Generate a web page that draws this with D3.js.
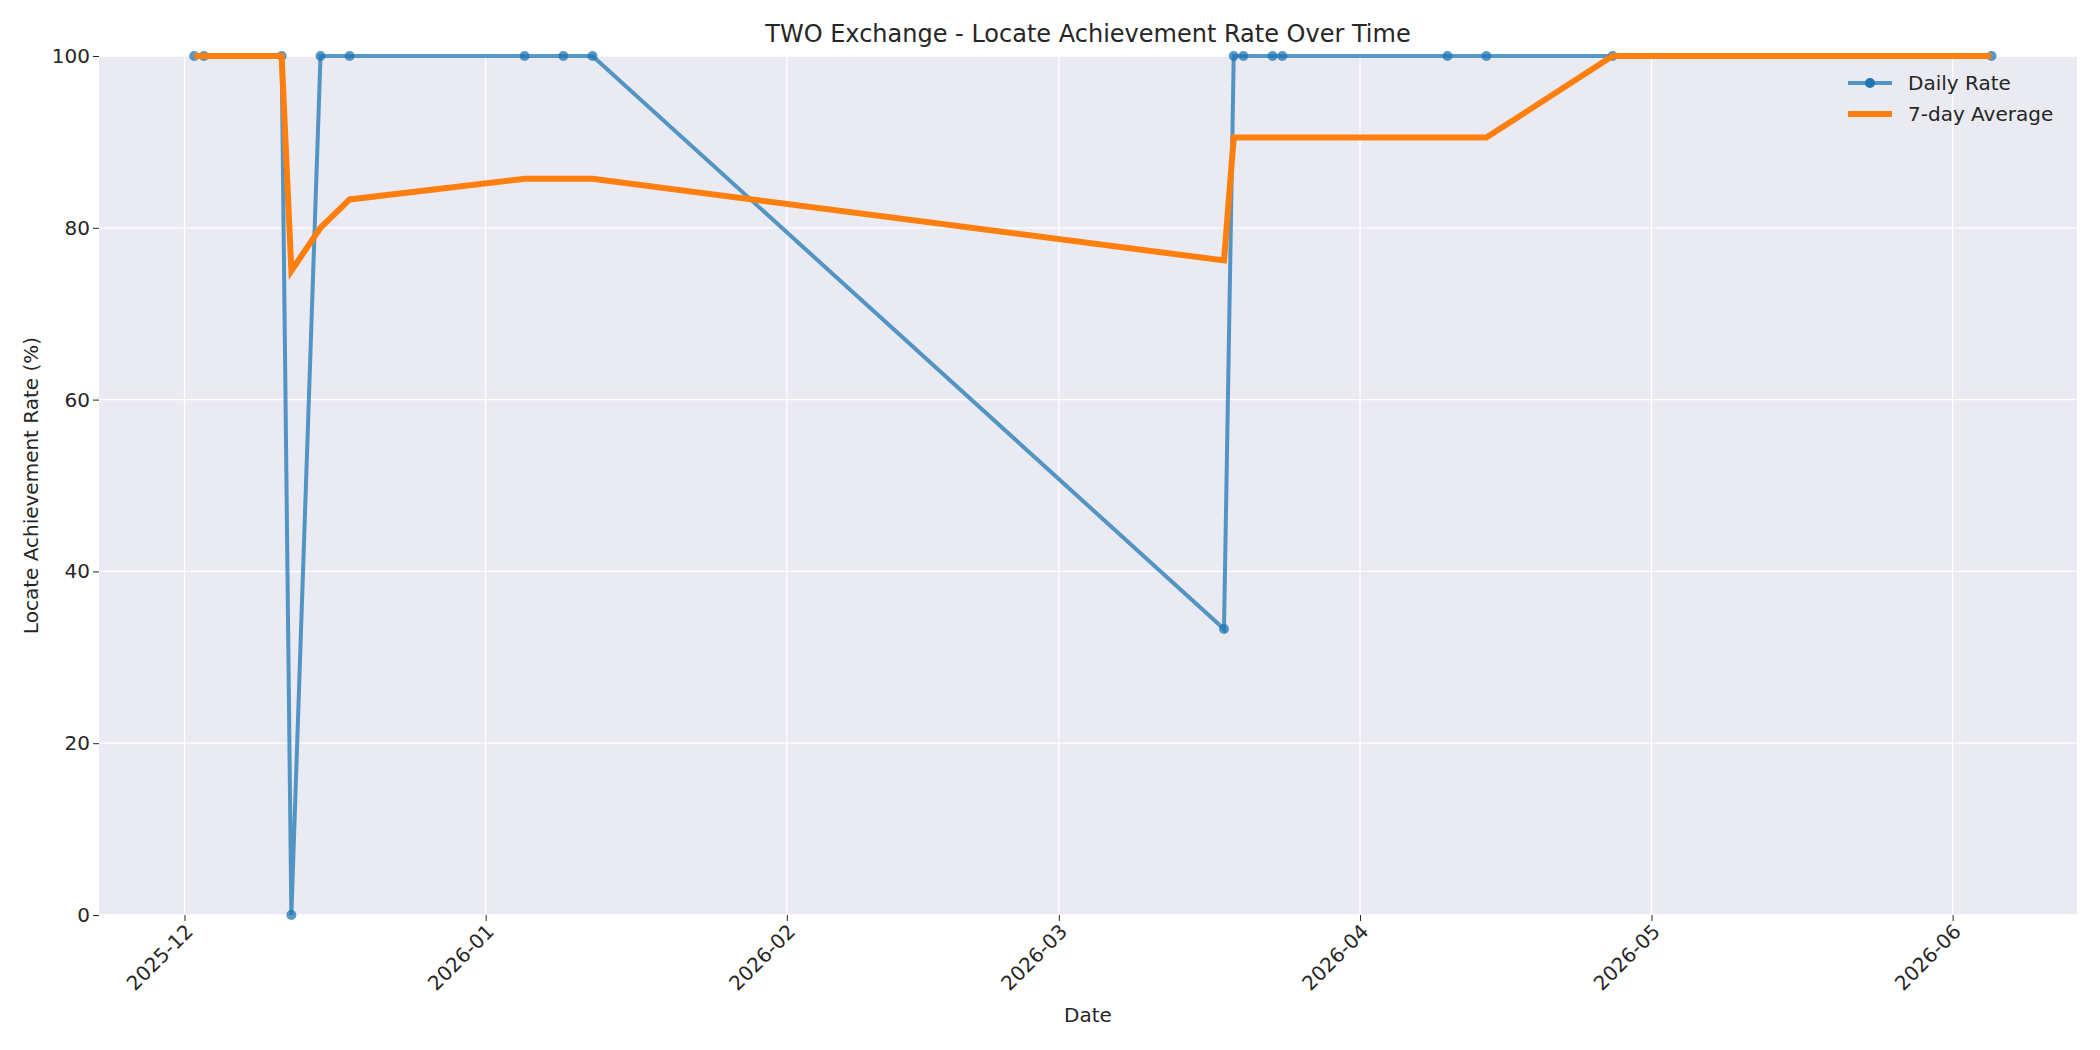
<!DOCTYPE html><html><head><meta charset="utf-8"><script src="https://cdn.jsdelivr.net/npm/d3@7"></script>
<style>body{margin:0;background:#fff}text{font-family:"DejaVu Sans",sans-serif;fill:#262626}</style></head><body>
<svg id="c" width="2100" height="1050"></svg>
<script>
const dates=["2025-12-02","2025-12-03","2025-12-11","2025-12-12","2025-12-15","2025-12-18","2026-01-05","2026-01-09","2026-01-12","2026-03-18","2026-03-19","2026-03-20","2026-03-23","2026-03-24","2026-04-10","2026-04-14","2026-04-27","2026-06-05"];
const daily=[100,100,100,0,100,100,100,100,100,33.3,100,100,100,100,100,100,100,100];
const avg7=[100,100,100,75,80,83.3,85.7,85.7,85.7,76.2,90.5,90.5,90.5,90.5,90.5,90.5,100,100];
const xTicks=["2025-12","2026-01","2026-02","2026-03","2026-04","2026-05","2026-06"];
const yTicks=[0,20,40,60,80,100];
const P=d3.timeParse("%Y-%m-%d");
const svg=d3.select("#c");
const L=99,R=2077,T=56,B=915;
const dayMs=864e5, ref=P("2025-12-01");
const x=d3.scaleTime().domain([new Date(+ref-8.8*dayMs),new Date(+ref+194.8*dayMs)]).range([L,R]);
const y=d3.scaleLinear().domain([0,100]).range([B,T]);
svg.append("rect").attr("x",L).attr("y",T).attr("width",R-L).attr("height",B-T).attr("fill","#eaeaf2");
const xt=xTicks.map(s=>d3.timeParse("%Y-%m")(s));
const g=svg.append("g");
g.selectAll(".gx").data(xt).join("line").attr("x1",d=>x(d)).attr("x2",d=>x(d)).attr("y1",T).attr("y2",B).attr("stroke","#fff").attr("stroke-width",1.3);
g.selectAll(".gy").data(yTicks).join("line").attr("x1",L).attr("x2",R).attr("y1",d=>y(d)).attr("y2",d=>y(d)).attr("stroke","#fff").attr("stroke-width",1.3);
const xa=svg.append("g").attr("transform",`translate(0,${B})`).call(d3.axisBottom(x).tickValues(xt).tickFormat(d3.timeFormat("%Y-%m")).tickSize(6));
xa.select(".domain").remove();
xa.selectAll("line").attr("stroke","#262626");
xa.selectAll("text").attr("font-size",20).attr("text-anchor","end").attr("dx","-0.3em").attr("dy","0.5em").attr("transform","rotate(-45)");
const ya=svg.append("g").attr("transform",`translate(${L},0)`).call(d3.axisLeft(y).tickValues(yTicks).tickSize(6));
ya.select(".domain").remove();ya.selectAll("line").attr("stroke","#262626");
ya.selectAll("text").attr("font-size",20);
const data=dates.map((d,i)=>({d:P(d),v:daily[i],a:avg7[i]}));
svg.append("path").datum(data).attr("fill","none").attr("stroke","#1f77b4").attr("stroke-opacity",0.75).attr("stroke-width",4)
 .attr("d",d3.line().x(d=>x(d.d)).y(d=>y(d.v)));
svg.selectAll(".pt").data(data).join("circle").attr("cx",d=>x(d.d)).attr("cy",d=>y(d.v)).attr("r",5).attr("fill","#1f77b4").attr("fill-opacity",0.75);
svg.append("path").datum(data).attr("fill","none").attr("stroke","#ff7f0e").attr("stroke-width",6)
 .attr("d",d3.line().x(d=>x(d.d)).y(d=>y(d.a)));
svg.append("text").attr("x",(L+R)/2).attr("y",42).attr("text-anchor","middle").attr("font-size",24).text("TWO Exchange - Locate Achievement Rate Over Time");
svg.append("text").attr("x",(L+R)/2).attr("y",1022).attr("text-anchor","middle").attr("font-size",20).text("Date");
svg.append("text").attr("transform",`translate(38,${(T+B)/2}) rotate(-90)`).attr("text-anchor","middle").attr("font-size",20).text("Locate Achievement Rate (%)");
const lg=svg.append("g").attr("transform","translate(1848,83)");
lg.append("line").attr("x1",0).attr("x2",44).attr("stroke","#1f77b4").attr("stroke-opacity",0.75).attr("stroke-width",4);
lg.append("circle").attr("cx",22).attr("r",5).attr("fill","#1f77b4");
lg.append("text").attr("x",60).attr("y",7).attr("font-size",20).text("Daily Rate");
lg.append("line").attr("x1",0).attr("x2",44).attr("y1",31).attr("y2",31).attr("stroke","#ff7f0e").attr("stroke-width",6);
lg.append("text").attr("x",60).attr("y",38).attr("font-size",20).text("7-day Average");
</script></body></html>
